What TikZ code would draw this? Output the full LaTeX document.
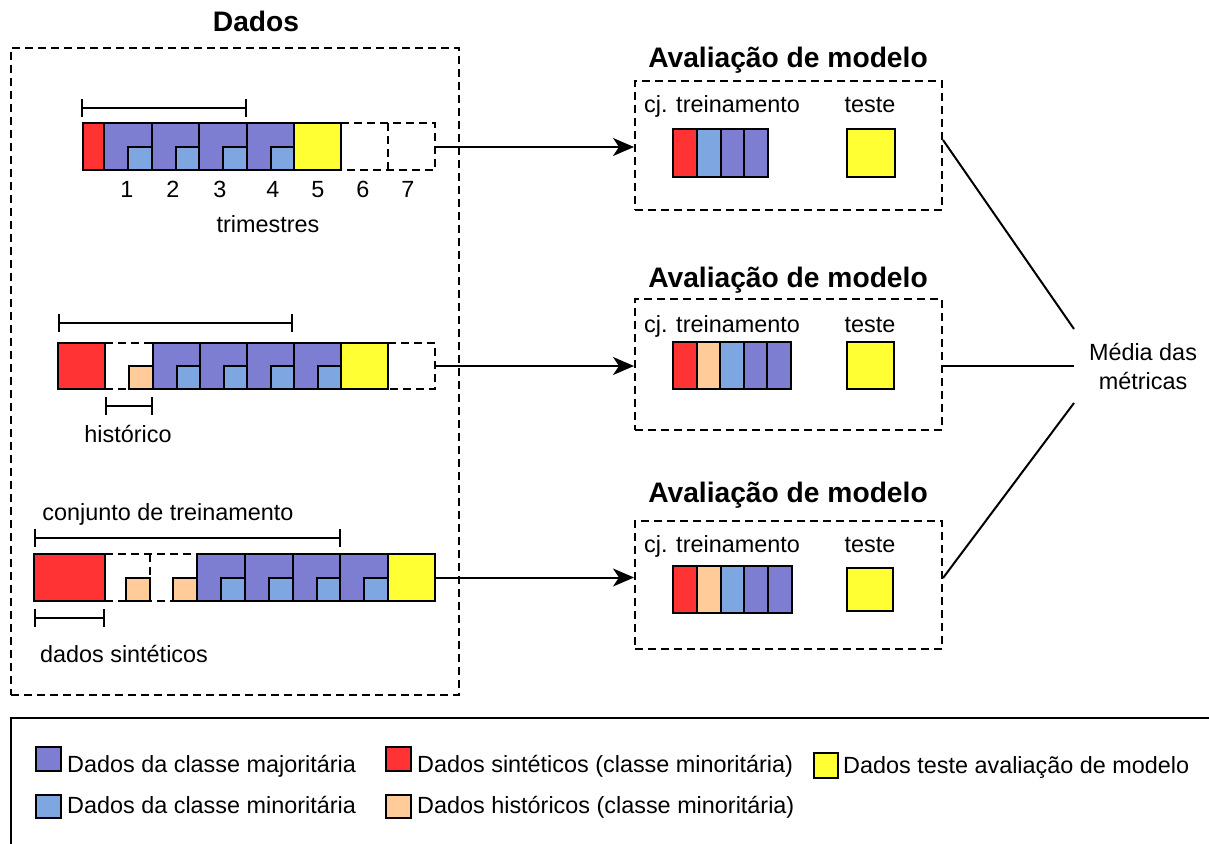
\documentclass[tikz,border=0pt]{standalone}
\usepackage{fontspec}
\setmainfont{Liberation Sans}
\usetikzlibrary{arrows.meta}
\definecolor{maj}{HTML}{7D7DD2}
\definecolor{mino}{HTML}{7EA6E0}
\definecolor{synth}{HTML}{FF3333}
\definecolor{hist}{HTML}{FFCC99}
\definecolor{tst}{HTML}{FFFF33}
\begin{document}
\begin{tikzpicture}[x=1pt,y=-1pt,
  cell/.style={draw=black,line width=2pt},
  dline/.style={draw=black,line width=2pt,dash pattern=on 8pt off 5pt},
  brk/.style={line width=2pt,{Bar[width=18pt]}-{Bar[width=18pt]}},
  txt/.style={font=\fontsize{23.4}{29}\selectfont,inner sep=0pt},
  ttl/.style={font=\fontsize{28.2}{32}\selectfont\bfseries,inner sep=0pt},
  evalbox/.style={dline,minimum width=307pt,inner sep=0pt},
  arr/.style={line width=2pt,-{Stealth[length=21pt,width=18pt,inset=6pt]}},
  conn/.style={line width=2pt},
]
\useasboundingbox (0,0) rectangle (1209,843);

% ---------------- Dados ----------------
\node[dline,minimum width=448pt,minimum height=647pt,inner sep=0pt] (dados) at (235,371.5) {};
\node[ttl,anchor=base] (tdados) at (256,32) {Dados};

% Row 1
\draw[dline] (341,123) -- (435,123) -- (435,170) -- (341,170);
\draw[dline] (388,123) -- (388,170);
\draw[cell,fill=synth] (83,123) rectangle (104,170);
\foreach \x in {104,151.5,199,246.5}{
  \draw[cell,fill=maj] (\x,123) rectangle ++(47.5,47);
  \draw[cell,fill=mino] (\x+24,147) rectangle (\x+47.5,170);
}
\draw[cell,fill=tst] (294,123) rectangle (341,170);
\coordinate (r1) at (435,147);
\foreach \n/\x in {1/127,2/173,3/220,4/273,5/318,6/363,7/408}
  \node[txt,anchor=base] (n\n) at (\x,197) {\n};
\node[txt,anchor=base] (trim) at (268,232) {trimestres};
\draw[brk] (81,108) -- (247,108);

% Row 2
\draw[dline] (105,343) -- (153,343);
\draw[dline] (105,389) -- (129,389);
\draw[dline] (388,343) -- (435,343) -- (435,389) -- (388,389);
\draw[cell,fill=synth] (58,343) rectangle (105,389);
\draw[cell,fill=hist] (129,366) rectangle (153,389);
\foreach \x in {153,200,247,294}{
  \draw[cell,fill=maj] (\x,343) rectangle ++(47,46);
  \draw[cell,fill=mino] (\x+23.5,366) rectangle (\x+47,389);
}
\draw[cell,fill=tst] (341,343) rectangle (388,389);
\coordinate (r2) at (435,366);
\draw[brk] (58,323) -- (293,323);
\draw[brk] (105,406) -- (153,406);
\node[txt,anchor=base] (histlbl) at (128,442) {histórico};

% Row 3
\draw[dline] (105,554) -- (197,554);
\draw[dline] (105,601) -- (197,601);
\draw[dline] (150,554) -- (150,578);
\draw[cell,fill=synth] (34,554) rectangle (105,601);
\draw[cell,fill=hist] (126,578) rectangle (150,601);
\draw[cell,fill=hist] (173,578) rectangle (197,601);
\foreach \x in {197,244.75,292.5,340.25}{
  \draw[cell,fill=maj] (\x,554) rectangle ++(47.75,47);
  \draw[cell,fill=mino] (\x+24,578) rectangle (\x+47.75,601);
}
\draw[cell,fill=tst] (388,554) rectangle (435,601);
\coordinate (r3) at (435,577.5);
\draw[brk] (34,538) -- (341,538);
\draw[brk] (34,618) -- (105,618);
\node[txt,anchor=base] (conj) at (168,520) {conjunto de treinamento};
\node[txt,anchor=base] (sint) at (124,662) {dados sintéticos};

% ---------------- Evaluation boxes ----------------
\node[evalbox,minimum height=129pt] (ev1) at (788.5,145.5) {};
\node[ttl,anchor=base] (t1) at (788,67) {Avaliação de modelo};
\node[txt,anchor=base] (cj1) at (722,112) {cj. treinamento};
\node[txt,anchor=base] (te1) at (870,112) {teste};
\foreach \c [count=\i from 0] in {synth,mino,maj,maj}
  \draw[cell,fill=\c] (673+\i*23.75,129) rectangle ++(23.75,48);
\draw[cell,fill=tst] (847,129) rectangle (895,177);

\node[evalbox,minimum height=131pt] (ev2) at (788.5,364.5) {};
\node[ttl,anchor=base] (t2) at (788,287) {Avaliação de modelo};
\node[txt,anchor=base] (cj2) at (722,332) {cj. treinamento};
\node[txt,anchor=base] (te2) at (870,332) {teste};
\foreach \c [count=\i from 0] in {synth,hist,mino,maj,maj}
  \draw[cell,fill=\c] (673+\i*23.6,342) rectangle ++(23.6,47);
\draw[cell,fill=tst] (847,342) rectangle (894,389);

\node[evalbox,minimum height=128pt] (ev3) at (788.5,585) {};
\node[ttl,anchor=base] (t3) at (788,502) {Avaliação de modelo};
\node[txt,anchor=base] (cj3) at (722,552) {cj. treinamento};
\node[txt,anchor=base] (te3) at (870,552) {teste};
\foreach \c [count=\i from 0] in {synth,hist,mino,maj,maj}
  \draw[cell,fill=\c] (673+\i*23.8,566) rectangle ++(23.8,47);
\draw[cell,fill=tst] (847,568) rectangle (893,611);

% arrows
\draw[arr] (r1) -- (r1 -| ev1.west);
\draw[arr] (r2) -- (r2 -| ev2.west);
\draw[arr] (r3) -- (r3 -| ev3.west);

% Media
\node[txt,align=center] (media) at (1143,366) {Média das\\métricas};
\coordinate (mA) at (1074,329);
\coordinate (mB) at (1074,366);
\coordinate (mC) at (1074,403);
\draw[conn] ([yshift=5.5pt]ev1.east) -- (mA);
\draw[conn] ([yshift=-1.5pt]ev2.east) -- (mB);
\draw[conn] ([yshift=7pt]ev3.east) -- (mC);

% ---------------- Legend ----------------
\draw[line width=2pt] (1215,718) -- (11,718) -- (11,850);
\draw[cell,fill=maj] (36,747) rectangle (61,771);
\node[txt,anchor=base west] (l1) at (67,772) {Dados da classe majoritária};
\draw[cell,fill=mino] (36,795) rectangle (61,818);
\node[txt,anchor=base west] (l2) at (67,813) {Dados da classe minoritária};
\draw[cell,fill=synth] (386,747) rectangle (411,771);
\node[txt,anchor=base west] (l3) at (417,772) {Dados sintéticos (classe minoritária)};
\draw[cell,fill=hist] (386,795) rectangle (411,818);
\node[txt,anchor=base west] (l4) at (417,813) {Dados históricos (classe minoritária)};
\draw[cell,fill=tst] (814,753) rectangle (838,778);
\node[txt,anchor=base west] (l5) at (843,773) {Dados teste avaliação de modelo};
\end{tikzpicture}
\end{document}
